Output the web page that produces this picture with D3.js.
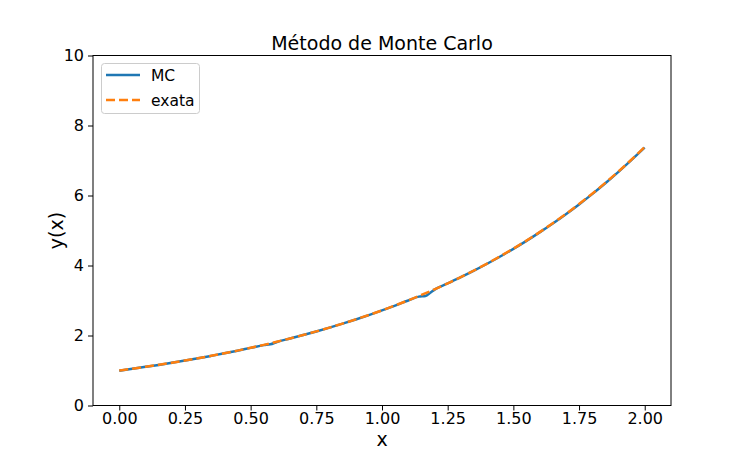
<!DOCTYPE html>
<html>
<head>
<meta charset="utf-8">
<script src="https://cdn.jsdelivr.net/npm/d3@7"></script>
<style>
body { margin: 0; background: #fff; }
svg { display: block; font-family: "DejaVu Sans", sans-serif; }
</style>
</head>
<body>
<svg id="chart" width="747" height="464"></svg>
<script>
const title = "Método de Monte Carlo";
const xLabel = "x";
const yLabel = "y(x)";
const seriesNames = ["MC", "exata"];
const xTicks = [0, 0.25, 0.5, 0.75, 1.0, 1.25, 1.5, 1.75, 2.0];
const yTicks = [0, 2, 4, 6, 8, 10];

const xExact = [0, 0.05, 0.1, 0.15, 0.2, 0.25, 0.3, 0.35, 0.4, 0.45, 0.5, 0.55, 0.6, 0.65, 0.7, 0.75, 0.8, 0.85, 0.9, 0.95, 1.0, 1.05, 1.1, 1.15, 1.2, 1.25, 1.3, 1.35, 1.4, 1.45, 1.5, 1.55, 1.6, 1.65, 1.7, 1.75, 1.8, 1.85, 1.9, 1.95, 2.0];
const yExact = [1.000, 1.051, 1.105, 1.162, 1.221, 1.284, 1.350, 1.419, 1.492, 1.568, 1.649, 1.733, 1.822, 1.916, 2.014, 2.117, 2.226, 2.340, 2.460, 2.586, 2.718, 2.858, 3.004, 3.158, 3.320, 3.490, 3.669, 3.857, 4.055, 4.263, 4.482, 4.711, 4.953, 5.207, 5.474, 5.755, 6.050, 6.360, 6.686, 7.029, 7.389];

const xMC = [0, 0.05, 0.1, 0.15, 0.2, 0.25, 0.3, 0.35, 0.4, 0.45, 0.5, 0.55, 0.575, 0.6, 0.65, 0.7, 0.75, 0.8, 0.85, 0.9, 0.95, 1.0, 1.05, 1.1, 1.14, 1.165, 1.185, 1.2, 1.25, 1.3, 1.35, 1.4, 1.45, 1.5, 1.55, 1.6, 1.65, 1.7, 1.75, 1.8, 1.85, 1.9, 1.95, 2.0];
const yMC = [0.995, 1.050, 1.104, 1.160, 1.220, 1.283, 1.348, 1.418, 1.490, 1.566, 1.646, 1.725, 1.748, 1.815, 1.913, 2.012, 2.115, 2.224, 2.338, 2.458, 2.584, 2.716, 2.855, 3.000, 3.110, 3.130, 3.230, 3.310, 3.487, 3.666, 3.853, 4.050, 4.258, 4.476, 4.705, 4.946, 5.200, 5.466, 5.746, 6.040, 6.350, 6.676, 7.018, 7.370];

const svg = d3.select("#chart");
const m = { left: 93, right: 671, top: 55.5, bottom: 405.5 };

const x = d3.scaleLinear().domain([-0.1, 2.1]).range([m.left, m.right]);
const y = d3.scaleLinear().domain([0, 10]).range([m.bottom, m.top]);

const line = d3.line().x(d => x(d[0])).y(d => y(d[1])).curve(d3.curveMonotoneX);

svg.append("defs").append("clipPath").attr("id", "clip")
  .append("rect").attr("x", m.left).attr("y", m.top).attr("width", m.right - m.left).attr("height", m.bottom - m.top);

const plot = svg.append("g").attr("clip-path", "url(#clip)");
plot.append("path")
  .datum(xMC.map((v, i) => [v, yMC[i]]))
  .attr("d", line).attr("fill", "none")
  .attr("stroke", "#1f77b4").attr("stroke-width", 2.5);
plot.append("path")
  .datum(xExact.map((v, i) => [v, yExact[i]]))
  .attr("d", line).attr("fill", "none")
  .attr("stroke", "#ff7f0e").attr("stroke-width", 2.5)
  .attr("stroke-dasharray", "9,4");

// axes
const xAxis = svg.append("g").attr("transform", `translate(0,${m.bottom})`)
  .call(d3.axisBottom(x).tickValues(xTicks).tickFormat(d3.format(".2f")).tickSizeOuter(0).tickSize(5).tickPadding(2.5));
const yAxis = svg.append("g").attr("transform", `translate(${m.left},0)`)
  .call(d3.axisLeft(y).tickValues(yTicks).tickFormat(d3.format("d")).tickSizeOuter(0).tickSize(5).tickPadding(4));
[xAxis, yAxis].forEach(g => {
  g.select(".domain").remove();
  g.selectAll("line").attr("stroke", "#000").attr("stroke-width", 1);
  g.selectAll("text").attr("font-size", 16).attr("fill", "#000").attr("font-family", "DejaVu Sans");
});

// spines
svg.append("rect").attr("x", m.left).attr("y", m.top)
  .attr("width", m.right - m.left).attr("height", m.bottom - m.top)
  .attr("fill", "none").attr("stroke", "#000").attr("stroke-width", 1);

// labels
svg.append("text").attr("x", (m.left + m.right) / 2).attr("y", 50)
  .attr("text-anchor", "middle").attr("font-size", 19).text(title);
svg.append("text").attr("x", (m.left + m.right) / 2).attr("y", 446)
  .attr("text-anchor", "middle").attr("font-size", 19).text(xLabel);
svg.append("text").attr("transform", `translate(63,${(m.top + m.bottom) / 2}) rotate(-90)`)
  .attr("text-anchor", "middle").attr("font-size", 19).text(yLabel);

// legend
const lg = svg.append("g");
lg.append("rect").attr("x", 101.5).attr("y", 63.5).attr("width", 98).attr("height", 50)
  .attr("rx", 3).attr("fill", "#fff").attr("fill-opacity", 0.8).attr("stroke", "#ccc").attr("stroke-width", 1);
const items = [
  { name: seriesNames[0], color: "#1f77b4", dash: null },
  { name: seriesNames[1], color: "#ff7f0e", dash: "9,4" }
];
items.forEach((it, i) => {
  const yy = 75 + i * 25;
  lg.append("line").attr("x1", 106).attr("x2", 140).attr("y1", yy).attr("y2", yy)
    .attr("stroke", it.color).attr("stroke-width", 2.5).attr("stroke-dasharray", it.dash);
  lg.append("text").attr("x", 151).attr("y", yy + 5.5).attr("font-size", 15.5).text(it.name);
});
</script>
</body>
</html>
